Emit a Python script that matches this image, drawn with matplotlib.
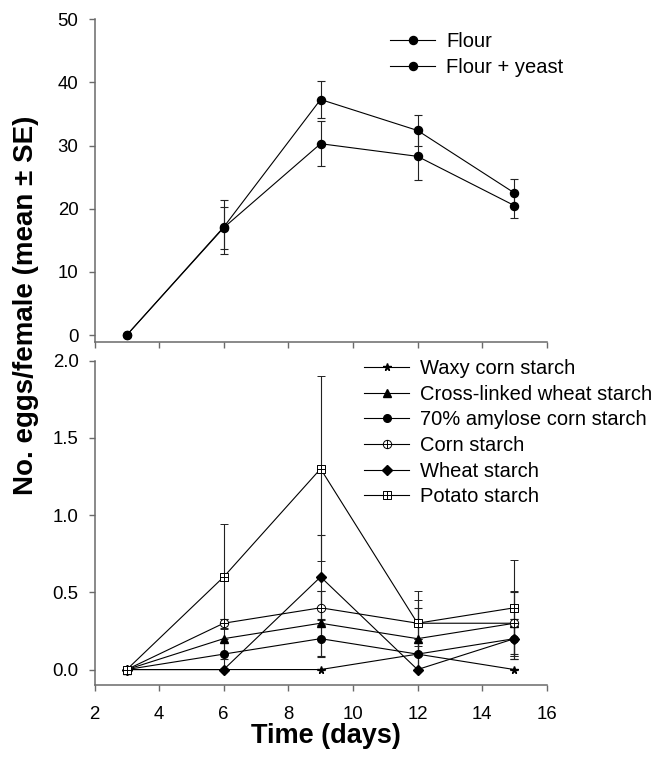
import matplotlib
matplotlib.use("Agg")
import matplotlib.pyplot as plt
from matplotlib.path import Path
import numpy as np

plt.rcParams['font.family'] = ['Liberation Sans', 'DejaVu Sans']

# ---------------- data ----------------
days = [3, 6, 9, 12, 15]

flour = [0, 17.0, 30.3, 28.3, 20.5]
flour_se = [0, 3.3, 3.6, 3.8, 1.9]
flour_yeast = [0, 17.1, 37.3, 32.4, 22.5]
flour_yeast_se = [0, 4.3, 2.9, 2.4, 2.2]

waxy = [0, 0, 0, 0.1, 0]
waxy_se = [0, 0, 0, 0.1, 0]
cross = [0, 0.2, 0.3, 0.2, 0.3]
cross_se = [0, 0.13, 0.21, 0.2, 0.2]
amylose = [0, 0.1, 0.2, 0.1, 0.2]
amylose_se = [0, 0.1, 0.12, 0.1, 0.13]
corn = [0, 0.3, 0.4, 0.3, 0.3]
corn_se = [0, 0.03, 0.11, 0.15, 0.21]
wheat = [0, 0, 0.6, 0, 0.2]
wheat_se = [0, 0, 0.27, 0, 0.13]
potato = [0, 0.6, 1.3, 0.3, 0.4]
potato_se = [0, 0.34, 0.6, 0.21, 0.31]

top_labels = ["Flour", "Flour + yeast"]
bottom_labels = ["Waxy corn starch", "Cross-linked wheat starch",
                 "70% amylose corn starch", "Corn starch",
                 "Wheat starch", "Potato starch"]
xticks = [2, 4, 6, 8, 10, 12, 14, 16]
top_yticks = [0, 10, 20, 30, 40, 50]
bottom_yticks = [0.0, 0.5, 1.0, 1.5, 2.0]

# ---------------- custom markers ----------------
M, L = Path.MOVETO, Path.LINETO
cross_path = Path([[-1, 0], [1, 0], [0, -1], [0, 1]], [M, L, M, L])
circ_plus = Path.make_compound_path(Path.unit_circle(), cross_path)
sq = Path([[-1, -1], [1, -1], [1, 1], [-1, 1], [-1, -1]],
          [M, L, L, L, Path.CLOSEPOLY])
sq_plus = Path.make_compound_path(sq, cross_path)

W, H = 656, 761
fig = plt.figure(figsize=(W / 100, H / 100), dpi=100)

def fx(px):
    return px / W

def fy(py):
    return 1 - py / H

ax1 = fig.add_axes([fx(94.5), fy(341.7), fx(546.7) - fx(94.5), fy(19.3) - fy(341.7)])
ax2 = fig.add_axes([fx(94.5), fy(685), fx(546.7) - fx(94.5), fy(360.7) - fy(685)])

spine_col = '#6a6a6a'
for ax in (ax1, ax2):
    for s in ('top', 'right'):
        ax.spines[s].set_visible(False)
    for s in ('left', 'bottom'):
        ax.spines[s].set_color(spine_col)
        ax.spines[s].set_linewidth(1.1)
    ax.tick_params(direction='out', length=4, width=1.0, color=spine_col,
                   labelsize=13.4)
    ax.tick_params(axis='y', pad=7.5)
    ax.tick_params(axis='x', pad=11)
    ax.set_xlim(2, 16)
    ax.set_xticks(xticks)

lw = 0.8
eb_kw = dict(capsize=3.2, elinewidth=0.8, capthick=0.8, ecolor='#222222')

# top panel
ax1.errorbar(days, flour, yerr=flour_se, color='black', lw=lw, marker='o',
             ms=5.8, mfc='black', mec='black', label=top_labels[0], **eb_kw)
ax1.errorbar(days, flour_yeast, yerr=flour_yeast_se, color='black', lw=lw,
             marker='o', ms=5.8, mfc='black', mec='black',
             label=top_labels[1], **eb_kw)
ax1.set_ylim(-1.05, 50)
ax1.set_yticks(top_yticks)
ax1.set_yticklabels([str(v) for v in top_yticks])
ax1.tick_params(axis='x', labelbottom=False)

# bottom panel
series = [
    (waxy, waxy_se, dict(marker='*', ms=5.5, mfc='black', mec='black')),
    (cross, cross_se, dict(marker='^', ms=5.5, mfc='black', mec='black')),
    (amylose, amylose_se, dict(marker='o', ms=5.5, mfc='black', mec='black')),
    (corn, corn_se, dict(marker=circ_plus, ms=6, mfc='white', mec='black', mew=0.7)),
    (wheat, wheat_se, dict(marker='D', ms=5, mfc='black', mec='black')),
    (potato, potato_se, dict(marker=sq_plus, ms=6, mfc='white', mec='black', mew=0.7)),
]
for (vals, se, mk), lab in zip(series, bottom_labels):
    ax2.errorbar(days, vals, yerr=se, color='black', lw=lw, label=lab,
                 **mk, **eb_kw)
ax2.set_ylim(-0.1, 2.0)
ax2.set_yticks(bottom_yticks)
ax2.set_yticklabels([f"{v:.1f}" for v in bottom_yticks])
ax2.set_xticklabels([str(v) for v in xticks])

# legends
leg_kw = dict(loc='upper left', bbox_transform=fig.transFigure, frameon=False,
              fontsize=14.5, borderpad=0, borderaxespad=0, handlelength=2.25,
              handletextpad=0.55, labelspacing=0.33)
h1, l1 = ax1.get_legend_handles_labels()
h1 = [h[0] for h in h1]
fig.legend(h1, l1, bbox_to_anchor=(fx(390), fy(32)), **leg_kw)
h2, l2 = ax2.get_legend_handles_labels()
h2 = [h[0] for h in h2]
fig.legend(h2, l2, bbox_to_anchor=(fx(364), fy(359)), **leg_kw)

fig.text(fx(26), fy(305), "No. eggs/female (mean \u00b1 SE)", rotation=90,
         ha='center', va='center', fontsize=20, fontweight='bold')
fig.text(fx(326), fy(736), "Time (days)", ha='center', va='center',
         fontsize=19.5, fontweight='bold')

fig.savefig("out.png", dpi=100)
